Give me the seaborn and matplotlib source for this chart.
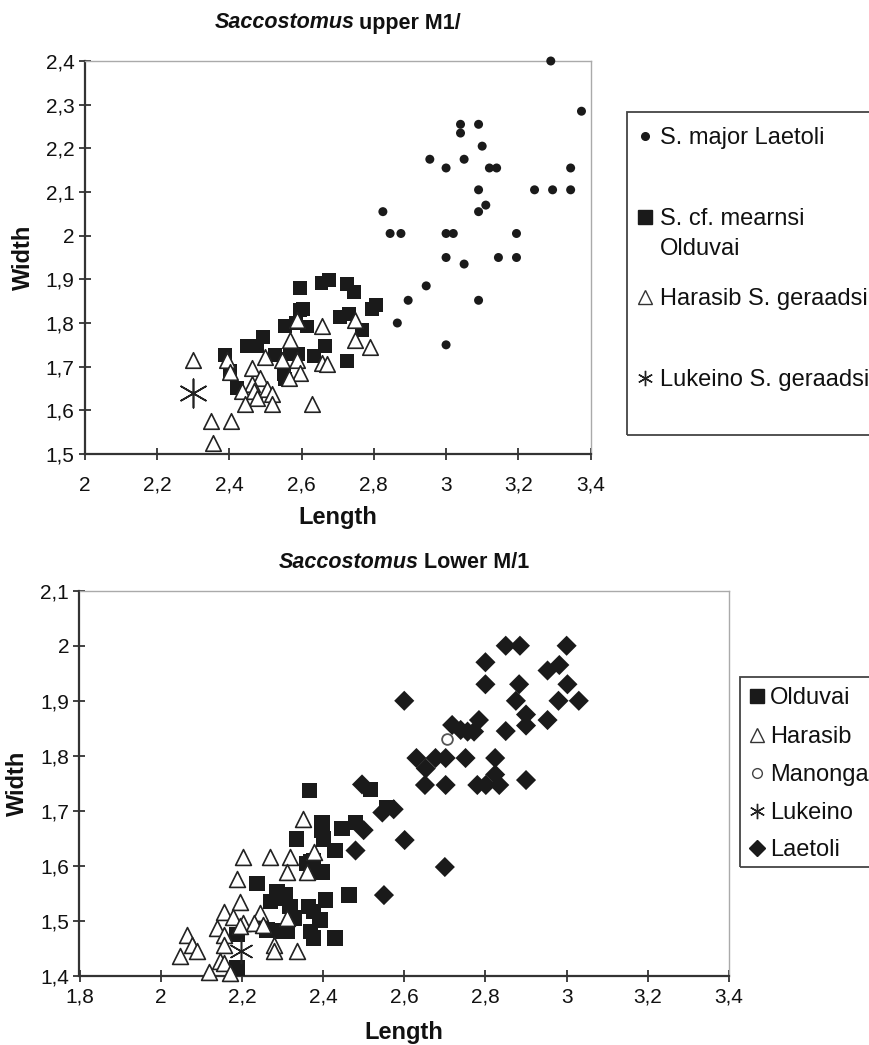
import matplotlib
matplotlib.use("Agg")
import matplotlib.pyplot as plt
import seaborn as sns
import numpy as np
from matplotlib.lines import Line2D
from matplotlib.patches import Rectangle
from matplotlib.ticker import FixedLocator, FuncFormatter

# ---------------- data: upper M1/ ----------------
major_laetoli_x = [3.29, 3.375, 3.04, 3.04, 3.09, 3.10, 2.955, 3.05, 3.0, 3.12, 3.14, 3.345,
                   3.09, 3.245, 3.295, 3.345, 3.11, 3.09, 2.825, 2.845, 2.875, 3.0, 3.02, 3.195,
                   3.0, 3.05, 3.145, 3.195, 2.945, 2.895, 3.09, 2.865, 3.0]
major_laetoli_y = [2.40, 2.285, 2.255, 2.235, 2.255, 2.205, 2.175, 2.175, 2.155, 2.155, 2.155, 2.155,
                   2.105, 2.105, 2.105, 2.105, 2.07, 2.055, 2.055, 2.005, 2.005, 2.005, 2.005, 2.005,
                   1.95, 1.935, 1.95, 1.95, 1.885, 1.852, 1.852, 1.80, 1.75]

mearnsi_olduvai_x = [2.595, 2.655, 2.675, 2.725, 2.745, 2.805, 2.795, 2.603, 2.707, 2.732,
                     2.555, 2.585, 2.615, 2.767, 2.494, 2.448, 2.476, 2.665, 2.527, 2.568,
                     2.591, 2.633, 2.388, 2.726, 2.402, 2.55, 2.555, 2.42, 2.596]
mearnsi_olduvai_y = [1.88, 1.892, 1.898, 1.89, 1.87, 1.842, 1.832, 1.833, 1.813, 1.821,
                     1.794, 1.80, 1.792, 1.784, 1.767, 1.748, 1.748, 1.748, 1.727, 1.729,
                     1.729, 1.725, 1.727, 1.713, 1.69, 1.683, 1.672, 1.652, 1.829]

harasib_up_x = [2.30, 2.393, 2.402, 2.462, 2.485, 2.499, 2.545, 2.587, 2.656, 2.568,
                2.587, 2.596, 2.564, 2.656, 2.67, 2.749, 2.749, 2.79, 2.462, 2.434,
                2.467, 2.504, 2.518, 2.476, 2.444, 2.518, 2.628, 2.349, 2.405, 2.354]
harasib_up_y = [1.715, 1.715, 1.687, 1.697, 1.675, 1.721, 1.715, 1.806, 1.794, 1.76,
                1.715, 1.685, 1.675, 1.708, 1.706, 1.806, 1.76, 1.746, 1.66, 1.645,
                1.645, 1.649, 1.637, 1.629, 1.614, 1.614, 1.614, 1.576, 1.576, 1.526]

lukeino_up_x = [2.30]
lukeino_up_y = [1.64]

# ---------------- data: Lower M/1 ----------------
olduvai_lo_x = [2.367, 2.398, 2.398, 2.401, 2.447, 2.48, 2.334, 2.43, 2.36, 2.377,
                2.398, 2.369, 2.377, 2.517, 2.558, 2.237, 2.286, 2.295, 2.319, 2.307,
                2.364, 2.377, 2.393, 2.464, 2.406, 2.262, 2.295, 2.311, 2.369, 2.377,
                2.43, 2.188, 2.188, 2.27, 2.33]
olduvai_lo_y = [1.737, 1.679, 1.664, 1.649, 1.668, 1.679, 1.649, 1.628, 1.604, 1.61,
                1.589, 1.607, 1.595, 1.739, 1.706, 1.568, 1.553, 1.541, 1.526, 1.547,
                1.526, 1.517, 1.502, 1.547, 1.538, 1.484, 1.482, 1.481, 1.481, 1.469,
                1.469, 1.475, 1.415, 1.535, 1.505]

harasib_lo_x = [2.351, 2.204, 2.27, 2.318, 2.311, 2.36, 2.188, 2.377, 2.196, 2.155,
                2.179, 2.245, 2.138, 2.155, 2.204, 2.229, 2.253, 2.311, 2.196, 2.064,
                2.077, 2.089, 2.048, 2.155, 2.146, 2.155, 2.118, 2.171, 2.278, 2.278, 2.336]
harasib_lo_y = [1.685, 1.616, 1.616, 1.616, 1.589, 1.589, 1.577, 1.625, 1.535, 1.517,
                1.508, 1.514, 1.487, 1.475, 1.496, 1.496, 1.493, 1.505, 1.49, 1.475,
                1.457, 1.446, 1.437, 1.457, 1.427, 1.424, 1.408, 1.406, 1.457, 1.445, 1.446]

manonga_lo_x = [2.706]
manonga_lo_y = [1.83]

lukeino_lo_x = [2.198]
lukeino_lo_y = [1.446]

laetoli_lo_x = [2.85, 2.885, 3.0, 2.80, 2.953, 2.982, 2.80, 2.883, 3.002, 2.60,
                2.875, 2.98, 3.03, 2.90, 2.90, 2.953, 2.85, 2.718, 2.739, 2.756,
                2.772, 2.784, 2.63, 2.677, 2.702, 2.751, 2.824, 2.653, 2.824, 2.651,
                2.702, 2.78, 2.801, 2.834, 2.90, 2.496, 2.546, 2.574, 2.601, 2.48,
                2.70, 2.55, 2.50]
laetoli_lo_y = [2.0, 2.0, 2.0, 1.97, 1.955, 1.965, 1.93, 1.93, 1.93, 1.90,
                1.90, 1.90, 1.90, 1.875, 1.855, 1.865, 1.845, 1.856, 1.847, 1.844,
                1.844, 1.865, 1.796, 1.796, 1.796, 1.796, 1.796, 1.777, 1.766, 1.747,
                1.747, 1.747, 1.747, 1.747, 1.756, 1.748, 1.697, 1.703, 1.647, 1.628,
                1.598, 1.547, 1.665]

# ticks / labels
top_xticks = [2.0, 2.2, 2.4, 2.6, 2.8, 3.0, 3.2, 3.4]
top_yticks = [1.5, 1.6, 1.7, 1.8, 1.9, 2.0, 2.1, 2.2, 2.3, 2.4]
bot_xticks = [1.8, 2.0, 2.2, 2.4, 2.6, 2.8, 3.0, 3.2, 3.4]
bot_yticks = [1.4, 1.5, 1.6, 1.7, 1.8, 1.9, 2.0, 2.1]

top_legend_labels = ["S. major Laetoli", "S. cf. mearnsi",
                     "Harasib S. geraadsi", "Lukeino S. geraadsi"]
top_legend_extra = "Olduvai"
bot_legend_labels = ["Olduvai", "Harasib", "Manonga", "Lukeino", "Laetoli"]

# ---------------- styling ----------------
sns.set_theme(style="white")
plt.rcParams['font.family'] = ['Liberation Sans', 'DejaVu Sans']

W, H = 870, 1045
fig = plt.figure(figsize=(W / 100, H / 100), dpi=100)


def frac(x0, y0, x1, y1):
    return [x0 / W, 1 - y1 / H, (x1 - x0) / W, (y1 - y0) / H]


ax1 = fig.add_axes(frac(85, 61, 590.5, 454))
ax2 = fig.add_axes(frac(79.5, 590.7, 729, 976))

BLACK = '#1a1a1a'
TXT = '#111111'
STAR = (6, 2, 0)

# upper chart
sns.scatterplot(x=major_laetoli_x, y=major_laetoli_y, ax=ax1, marker='o', s=42,
                color=BLACK, edgecolor='none', legend=False, clip_on=False, zorder=3)
sns.scatterplot(x=mearnsi_olduvai_x, y=mearnsi_olduvai_y, ax=ax1, marker='s', s=100,
                color=BLACK, edgecolor='none', legend=False, clip_on=False, zorder=3)
sns.scatterplot(x=harasib_up_x, y=harasib_up_y, ax=ax1, marker='^', s=125,
                color='white', edgecolor='#222222', linewidth=1.2, legend=False,
                clip_on=False, zorder=4)
sns.scatterplot(x=lukeino_up_x, y=lukeino_up_y, ax=ax1, marker=STAR, s=420,
                color='#222222', linewidth=1.2, legend=False, clip_on=False, zorder=4)

# lower chart
sns.scatterplot(x=olduvai_lo_x, y=olduvai_lo_y, ax=ax2, marker='s', s=125,
                color=BLACK, edgecolor='none', legend=False, clip_on=False, zorder=3)
sns.scatterplot(x=harasib_lo_x, y=harasib_lo_y, ax=ax2, marker='^', s=130,
                color='white', edgecolor='#222222', linewidth=1.2, legend=False,
                clip_on=False, zorder=3)
sns.scatterplot(x=manonga_lo_x, y=manonga_lo_y, ax=ax2, marker='o', s=60,
                color='white', edgecolor='#555555', linewidth=1.3, legend=False,
                clip_on=False, zorder=3)
sns.scatterplot(x=lukeino_lo_x, y=lukeino_lo_y, ax=ax2, marker=STAR, s=300,
                color='#222222', linewidth=1.1, legend=False, clip_on=False, zorder=4)
sns.scatterplot(x=laetoli_lo_x, y=laetoli_lo_y, ax=ax2, marker='D', s=105,
                color=BLACK, edgecolor='none', legend=False, clip_on=False, zorder=3)


def comma(v, pos=None):
    return f"{round(v, 1):g}".replace('.', ',')


for ax, xt, yt, xpad, xlabpad in [(ax1, top_xticks, top_yticks, 11, 8),
                                  (ax2, bot_xticks, bot_yticks, 4, 10)]:
    ax.set_xlim(xt[0], xt[-1])
    ax.set_ylim(yt[0], yt[-1])
    ax.xaxis.set_major_locator(FixedLocator(xt))
    ax.yaxis.set_major_locator(FixedLocator(yt))
    ax.xaxis.set_major_formatter(FuncFormatter(comma))
    ax.yaxis.set_major_formatter(FuncFormatter(comma))
    for side in ['left', 'bottom']:
        ax.spines[side].set_color('#333333')
        ax.spines[side].set_linewidth(1.6)
    for side in ['top', 'right']:
        ax.spines[side].set_color('#aaaaaa')
        ax.spines[side].set_linewidth(1.0)
    ax.tick_params(axis='both', direction='inout', length=9, width=1.3,
                   color='#333333', labelsize=15, labelcolor=TXT, pad=3,
                   bottom=True, left=True, top=False, right=False)
    ax.tick_params(axis='x', pad=xpad)
    ax.set_xlabel("Length", fontsize=17, fontweight='bold', color=TXT, labelpad=xlabpad)
    ax.set_ylabel("Width", fontsize=17, fontweight='bold', color=TXT, labelpad=8)
    ax.set_facecolor('white')
    ax.grid(False)

# legend frames
fig.add_artist(Rectangle((626.7 / W, 1 - 435 / H), (900 - 626.7) / W, (435 - 111.7) / H,
                         transform=fig.transFigure, fill=False, edgecolor='#444444', lw=1.3))
fig.add_artist(Rectangle((740 / W, 1 - 866.7 / H), (900 - 740) / W, (866.7 - 676.7) / H,
                         transform=fig.transFigure, fill=False, edgecolor='#444444', lw=1.3))

LEG_FS = 17
FS_PX = LEG_FS * 100 / 72
HL = 0.6

top_handles = [
    Line2D([], [], ls='', marker='o', color=BLACK, markersize=5.5),
    Line2D([], [], ls='', marker='s', color=BLACK, markersize=9.5),
    Line2D([], [], ls='', marker='^', markerfacecolor='white', markeredgecolor='#333333',
           markeredgewidth=1.0, markersize=9.5),
    Line2D([], [], ls='', marker=STAR, color='#222222', markeredgewidth=1.0, markersize=11),
]
top_rows_y = [138, 219, 299, 380]
legend_texts = []
for h, lab, yc in zip(top_handles, top_legend_labels, top_rows_y):
    x_left = 645 - HL * FS_PX / 2
    lg = fig.legend([h], [lab], loc='center left',
                    bbox_to_anchor=(x_left / W, 1 - yc / H), bbox_transform=fig.transFigure,
                    frameon=False, fontsize=LEG_FS, handlelength=HL, handletextpad=0.33,
                    borderpad=0, borderaxespad=0)
    for t in lg.get_texts():
        t.set_color(TXT)
    legend_texts.append(lg.get_texts()[0])

bot_handles = [
    Line2D([], [], ls='', marker='s', color=BLACK, markersize=9.5),
    Line2D([], [], ls='', marker='^', markerfacecolor='white', markeredgecolor='#333333',
           markeredgewidth=1.0, markersize=9.5),
    Line2D([], [], ls='', marker='o', markerfacecolor='white', markeredgecolor='#444444',
           markeredgewidth=1.0, markersize=7),
    Line2D([], [], ls='', marker=STAR, color='#222222', markeredgewidth=1.0, markersize=11),
    Line2D([], [], ls='', marker='D', color=BLACK, markersize=8.5),
]
bot_rows_y = [698, 737, 775, 813, 850]
for h, lab, yc in zip(bot_handles, bot_legend_labels, bot_rows_y):
    x_left = 756.7 - HL * FS_PX / 2
    lg = fig.legend([h], [lab], loc='center left',
                    bbox_to_anchor=(x_left / W, 1 - yc / H), bbox_transform=fig.transFigure,
                    frameon=False, fontsize=LEG_FS, handlelength=HL, handletextpad=0.26,
                    borderpad=0, borderaxespad=0)
    for t in lg.get_texts():
        t.set_color(TXT)

# titles with mixed italic / bold, and second legend line
fig.canvas.draw()
renderer = fig.canvas.get_renderer()

x_text = legend_texts[1].get_window_extent(renderer).x0
fig.text(x_text / W, 1 - 249 / H, top_legend_extra, fontsize=LEG_FS, color=TXT,
         ha='left', va='center')


def mixed_title(ax, italic_part, rest, y_px):
    t1 = fig.text(0, 1 - y_px / H, italic_part, fontsize=15.5, fontweight='bold',
                  fontstyle='italic', ha='left', va='center', color=TXT)
    t2 = fig.text(0, 1 - y_px / H, rest, fontsize=15.5, fontweight='bold',
                  ha='left', va='center', color=TXT)
    w1 = t1.get_window_extent(renderer).width
    w2 = t2.get_window_extent(renderer).width
    gap = 5
    pos = ax.get_position()
    cx = (pos.x0 + pos.x1) / 2 * W
    start = cx - (w1 + gap + w2) / 2
    t1.set_x(start / W)
    t2.set_x((start + w1 + gap) / W)


mixed_title(ax1, "Saccostomus", "upper M1/", 23)
mixed_title(ax2, "Saccostomus", "Lower M/1", 562)

fig.savefig("out.png", dpi=100, facecolor='white')
